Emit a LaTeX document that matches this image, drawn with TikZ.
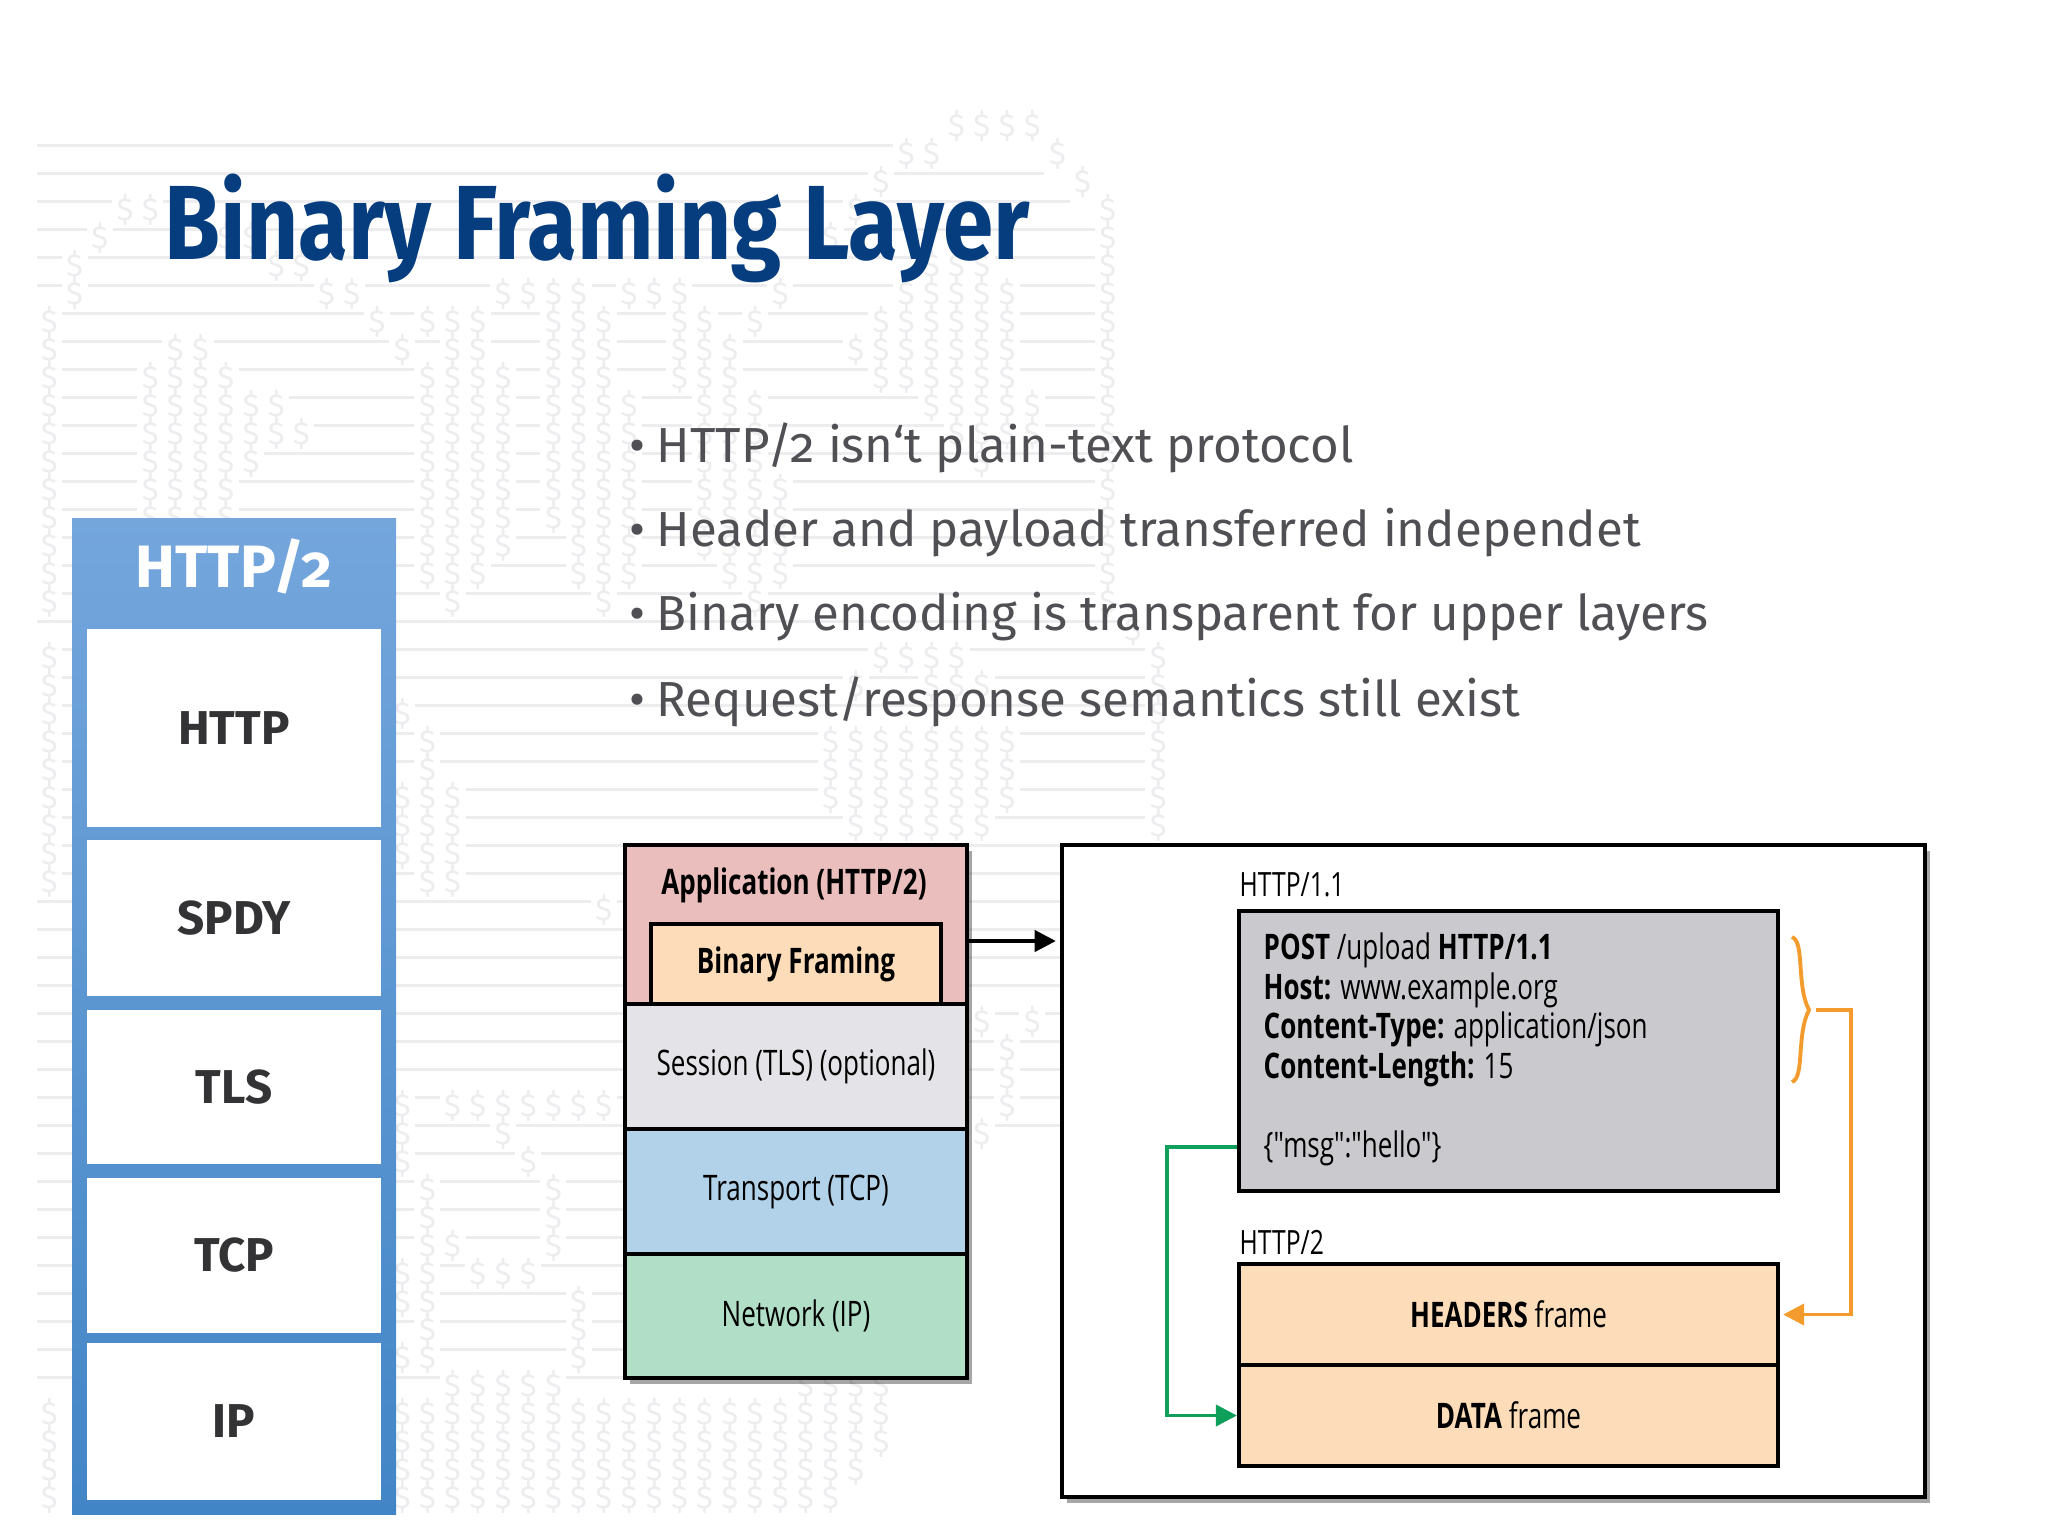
\documentclass[tikz,border=0pt]{standalone}
\usepackage{fontspec}
\usetikzlibrary{arrows.meta,shadows}
\setmainfont[Numbers=OldStyle]{Fira Sans}
\newfontfamily\diagfont[FakeStretch=0.74]{Open Sans}
\newfontfamily\titlefont[FakeStretch=0.86]{Fira Sans}
\definecolor{titleblue}{HTML}{053D7E}
\definecolor{bodygrey}{HTML}{505054}
\definecolor{stackink}{HTML}{333335}
\definecolor{faintink}{HTML}{EDEDF0}
\definecolor{apppink}{HTML}{EBBEBE}
\definecolor{frametan}{HTML}{FDDDB9}
\definecolor{sessiongrey}{HTML}{E4E3E7}
\definecolor{tcpblue}{HTML}{B1D2E9}
\definecolor{ipgreen}{HTML}{B1DEC7}
\definecolor{reqgrey}{HTML}{CAC9CE}
\definecolor{greenline}{HTML}{0E9F5B}
\definecolor{orangeline}{HTML}{F39C2D}
\tikzset{
	dollar/.style={inner sep=0pt, text=faintink, font=\fontsize{9}{9}\selectfont},
	stacklabel/.style={fill=white, minimum width=2.93cm, text=stackink, font=\fontsize{13.5}{15}\selectfont\bfseries},
	layer/.style={draw=black, line width=1.1pt, minimum width=3.42cm, font=\diagfont\fontsize{10}{12}\selectfont},
	framebox/.style={draw=black, line width=1.1pt, minimum width=5.39cm, minimum height=1.01cm, fill=frametan, font=\diagfont\fontsize{10}{12}\selectfont},
	bullet/.style={anchor=west, inner sep=0pt, text=bodygrey, font=\fontsize{14}{16}\selectfont},
	boxshadow/.style={drop shadow={shadow xshift=.05cm, shadow yshift=-.06cm, fill=black, opacity=.35}},
}
\begin{document}
\begin{tikzpicture}[x=0.01cm, y=-0.01cm]
	\useasboundingbox (0,0) rectangle (2048,1536);

	%%%%% background %%%%%
	\foreach \r/\e in {0/896,1/1044,2/1070}
		\draw[faintink, line width=0.9pt] (37,145.7+28*\r) -- (\e,145.7+28*\r);
	\foreach \r in {3,...,16}
		\draw[faintink, line width=0.9pt] (37,145.7+28*\r) -- (1097,145.7+28*\r);
	\foreach \r in {17,...,35}
		\draw[faintink, line width=0.9pt] (37,145.7+28*\r) -- (1145,145.7+28*\r);
	\foreach \r in {36,...,44}
		\draw[faintink, line width=0.9pt] (37,145.7+28*\r) -- (700,145.7+28*\r);
	\foreach \j/\a/\b in {0/6/16,0/18/26,0/45/48,1/4/5,2/3/3,3/2/2,4/2/2,4/8/13,5/7/13,6/7/13,
		7/3/3,7/8/13,8/3/3,8/9/11,9/4/4,9/9/10,10/4/4,10/10/10,11/5/5,12/5/5,13/6/6,
		14/7/7,14/20/20,14/23/25,14/34/36,14/40/41,14/43/43,14/45/48,
		15/6/6,15/8/15,15/21/26,15/37/43,15/45/48,16/6/16,16/23/26,16/34/34,16/39/39,16/44/48,
		17/6/15,17/34/34,17/40/40,17/44/48,18/5/5,18/8/14,18/34/35,18/40/40,18/44/48,
		19/5/5,19/34/34,19/36/36,19/40/40,19/44/48,20/5/13,20/34/34,20/37/39,20/44/48,
		21/5/15,21/34/34,21/41/43,21/45/48,22/6/16,22/27/27,22/34/34,22/45/48,
		23/5/5,23/9/15,23/45/48,24/5/5,24/45/48,25/5/8,25/45/48,26/6/14,26/45/48,
		27/7/15,27/45/48,28/6/6,28/9/16,28/45/48,29/5/5,29/12/15,29/45/48,
		30/44/48,31/3/3,31/21/23,31/44/48,32/2/2,32/7/7,32/19/19,32/21/24,32/44/47,
		33/1/1,33/6/8,33/18/18,33/21/24,33/44/46,34/0/0,34/5/8,34/18/18,34/21/24,
		35/0/0,35/4/9,35/18/19,35/21/24,36/-1/-1,36/4/10,36/18/19,36/21/24,
		37/-1/-1,37/4/11,37/19/19,37/21/24,37/31/31,37/35/35,38/-1/-1,38/5/10,38/21/23,38/32/34,
		39/-1/-1,39/9/10,39/31/31,40/0/0,41/1/1,42/2/16,43/17/17,44/18/24}
		\foreach \r in {\a,...,\b} {
			\fill[white] (49.4+25.2*\j-13,143.7+28*\r) rectangle (49.4+25.2*\j+13,147.7+28*\r);
			\node[dollar] (dollar\j-\r) at (49.4+25.2*\j,153.7+28*\r) {\$};
		}

	%%%%% title and bullets %%%%%
	\node[anchor=base west, inner sep=0pt, text=titleblue, font=\titlefont\fontsize{30}{32}\selectfont\bfseries] (title) at (164,259) {Binary Framing Layer};
	\node[bullet] (point1) at (629,448) {•\hspace{3.2pt}HTTP/2 isn‘t plain-text protocol};
	\node[bullet] (point2) at (629,533) {•\hspace{3.2pt}Header and payload transferred independet};
	\node[bullet] (point3) at (629,617) {•\hspace{3.2pt}Binary encoding is transparent for upper layers};
	\node[bullet] (point4) at (629,702) {•\hspace{3.2pt}Request/response semantics still exist};

	%%%%% left stack %%%%%
	\shade[top color=blue!0!white!0!black!0!white, top color={rgb,255:red,116;green,166;blue,220}, bottom color={rgb,255:red,66;green,133;blue,198}] (72,518) rectangle (396,1514);
	\node[text=white, font=\fontsize{17}{20}\selectfont\bfseries] (stacktitle) at (234,566) {HTTP/2};
	\node[stacklabel, minimum height=1.98cm] (stackhttp) at (234,728) {HTTP};
	\node[stacklabel, minimum height=1.56cm] (stackspdy) at (234,918) {SPDY};
	\node[stacklabel, minimum height=1.54cm] (stacktls) at (234,1087) {TLS};
	\node[stacklabel, minimum height=1.55cm] (stacktcp) at (234,1255.5) {TCP};
	\node[stacklabel, minimum height=1.57cm] (stackip) at (234,1421.5) {IP};

	%%%%% protocol layers %%%%%
	\node[layer, fill=apppink, minimum height=1.59cm, boxshadow] (application) at (796,924.5) {};
	\node[layer, fill=sessiongrey, minimum height=1.25cm, boxshadow] (session) at (796,1066.5) {Session (TLS) (optional)};
	\node[layer, fill=tcpblue, minimum height=1.25cm, boxshadow] (transport) at (796,1191.5) {Transport (TCP)};
	\node[layer, fill=ipgreen, minimum height=1.24cm, boxshadow] (network) at (796,1316) {Network (IP)};
	\node[font=\diagfont\fontsize{10}{12}\selectfont\bfseries] (applabel) at (794,885) {Application (HTTP/2)};
	\node[draw=black, line width=1.1pt, fill=frametan, minimum width=2.9cm, minimum height=.8cm, font=\diagfont\fontsize{10}{12}\selectfont\bfseries] (binary) at (796,964) {Binary Framing};

	%%%%% right box %%%%%
	\node[draw=black, line width=1.1pt, fill=white, minimum width=8.63cm, minimum height=6.52cm, boxshadow] (bigbox) at (1493.5,1171) {};
	\node[anchor=west, inner sep=0pt, font=\diagfont\fontsize{9.5}{11}\selectfont] (labelone) at (1239,885) {HTTP/1.1};
	\node[draw=black, line width=1.1pt, fill=reqgrey, minimum width=5.39cm, minimum height=2.8cm] (greybox) at (1508.5,1051) {};
	\node[anchor=north west, inner sep=0pt, align=left, font=\diagfont\fontsize{10}{11.25}\selectfont] (request) at (1263,932) {\textbf{POST} /upload \textbf{HTTP/1.1}\\\textbf{Host:} www.example.org\\\textbf{Content-Type:} application/json\\\textbf{Content-Length:} 15\\[11.25pt]\{"msg":"hello"\}};
	\node[anchor=west, inner sep=0pt, font=\diagfont\fontsize{9.5}{11}\selectfont] (labeltwo) at (1239,1242) {HTTP/2};
	\node[framebox] (headers) at (1508.5,1314.5) {\textbf{HEADERS} frame};
	\node[framebox] (dataframe) at (1508.5,1415.5) {\textbf{DATA} frame};

	%%%%% connectors %%%%%
	\coordinate (archy) at (967,941);
	\draw[line width=1.1pt, -{Triangle[length=6pt,width=6pt]}, shorten >=.04cm] (application.east |- archy) -- (bigbox.west |- archy);

	\coordinate (greenbend) at (1167,1147);
	\draw[greenline, line width=1.1pt, -{Triangle[length=6pt,width=6pt]}] (greybox.west |- greenbend) -- (greenbend) |- (dataframe.west);

	\coordinate (bracetop) at (1792,937);
	\coordinate (bracepoint) at (1809,1010);
	\coordinate (bracebottom) at (1792,1082);
	\draw[orangeline, line width=1.1pt] (bracetop) .. controls (1805,942) and (1796,985) .. (bracepoint) .. controls (1796,1035) and (1805,1077) .. (bracebottom);
	\coordinate (orangestart) at (1816,1010);
	\coordinate (orangebend) at (1851,1010);
	\draw[orangeline, line width=1.1pt, -{Triangle[length=6pt,width=6pt]}, shorten >=.03cm] (orangestart) -- (orangebend) |- (headers.east);
\end{tikzpicture}
\end{document}
